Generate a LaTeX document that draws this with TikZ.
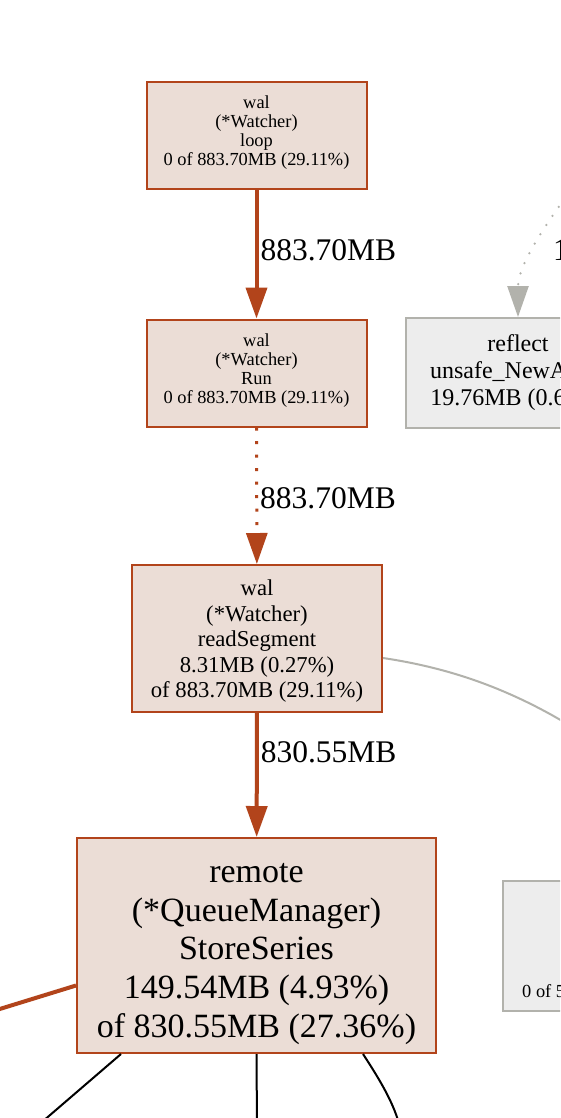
\documentclass[tikz,border=0pt]{standalone}
\usepackage{fontspec}
\setmainfont{Liberation Serif}
\usepackage{xcolor}
\usepackage{tikz}
\usetikzlibrary{arrows.meta}

\definecolor{hotfill}{HTML}{EBDDD6}
\definecolor{hotline}{HTML}{B2441B}
\definecolor{coldfill}{HTML}{EDEDED}
\definecolor{coldline}{HTML}{B2B2AC}

\begin{document}
\begin{tikzpicture}[
                    x=1pt, y=-1pt,
                    >={Triangle[length=31pt,width=21pt]},
                    hotbox/.style={rectangle, draw=hotline, fill=hotfill, line width=2pt, align=center, inner sep=0pt},
                    coldbox/.style={rectangle, draw=coldline, fill=coldfill, line width=2pt, align=center, inner sep=0pt},
                    tinytext/.style={font=\fontsize{18.4}{19}\selectfont},
                    midtext/.style={font=\fontsize{22.7}{25.5}\selectfont},
                    bigtext/.style={font=\fontsize{34}{38.75}\selectfont},
                    hotedge/.style={draw=hotline, line width=4pt},
                    edgelabel/.style={anchor=west, inner sep=2pt, font=\fontsize{31.5}{36}\selectfont}
            ]
                \useasboundingbox (0,0) rectangle (560,1118);
                \clip (0,0) rectangle (560,1118);
                \fill[white] (0,0) rectangle (560,1118);

                % call chain
                \node [hotbox, tinytext, minimum width=220pt, minimum height=107pt] (loop) at (256.5,135.5)
                    {wal\\(*Watcher)\\loop\\0 of 883.70MB (29.11\%)\rule[-9pt]{0pt}{9pt}};
                \node [hotbox, tinytext, minimum width=220pt, minimum height=107pt] (run) at (256.5,373)
                    {wal\\(*Watcher)\\Run\\0 of 883.70MB (29.11\%)\rule[-9pt]{0pt}{9pt}};
                \node [hotbox, midtext, minimum width=250pt, minimum height=147pt] (readseg) at (257,638.5)
                    {\rule{0pt}{21.5pt}wal\\(*Watcher)\\readSegment\\8.31MB (0.27\%)\\of 883.70MB (29.11\%)};
                \node [hotbox, bigtext, minimum width=359pt, minimum height=215pt] (store) at (256.5,945.5)
                    {\rule{0pt}{36pt}remote\\(*QueueManager)\\StoreSeries\\149.54MB (4.93\%)\\of 830.55MB (27.36\%)};

                % side nodes
                \node [coldbox, font=\fontsize{24}{27}\selectfont, minimum width=224pt, minimum height=110pt] (reflect) at (518,373)
                    {reflect\\unsafe\_NewArray\\19.76MB (0.65\%)};
                \node [coldbox, minimum width=200pt, minimum height=130pt] (other) at (603,946) {};
                \node [tinytext, anchor=base west, inner sep=0pt] (otherval) at (522,997) {0 of 5};

                % edges
                \draw [hotedge, ->] (loop) -- node [edgelabel, pos=0.47] {883.70MB} (run);
                \draw [hotedge, ->, line width=3pt, dash pattern=on 3pt off 10.5pt] (run) -- node [edgelabel, pos=0.52] {883.70MB} (readseg);
                \draw [hotedge, ->] (readseg) -- node [edgelabel, pos=0.32] {830.55MB} (store);

                \coordinate (reflectsrc) at (578,180);
                \draw [coldline, line width=2.5pt, line cap=round, dash pattern=on 0pt off 11pt, ->]
                    (reflectsrc) .. controls (545,225) and (518,265) .. (reflect.north);
                \node [edgelabel] (reflectlabel) at (551,250) {19.76MB};

                \coordinate (readsegout) at (600,745);
                \draw [coldline, line width=2pt] ([yshift=-19.5pt]readseg.east) .. controls (450,668) and (520,690) .. (readsegout);

                \coordinate (storein) at (-10,1012);
                \draw [hotedge] (storein) -- ([yshift=-40pt]store.west);

                \coordinate (outa) at (35,1128);
                \coordinate (outb) at (257,1128);
                \coordinate (outc) at (400,1128);
                \draw [black, line width=2pt] ([xshift=45pt]store.south west) -- (outa);
                \draw [black, line width=2pt] (store.south) -- (outb);
                \draw [black, line width=2pt] ([xshift=-74pt]store.south east) .. controls (380,1080) and (395,1105) .. (outc);
            \end{tikzpicture}
\end{document}
